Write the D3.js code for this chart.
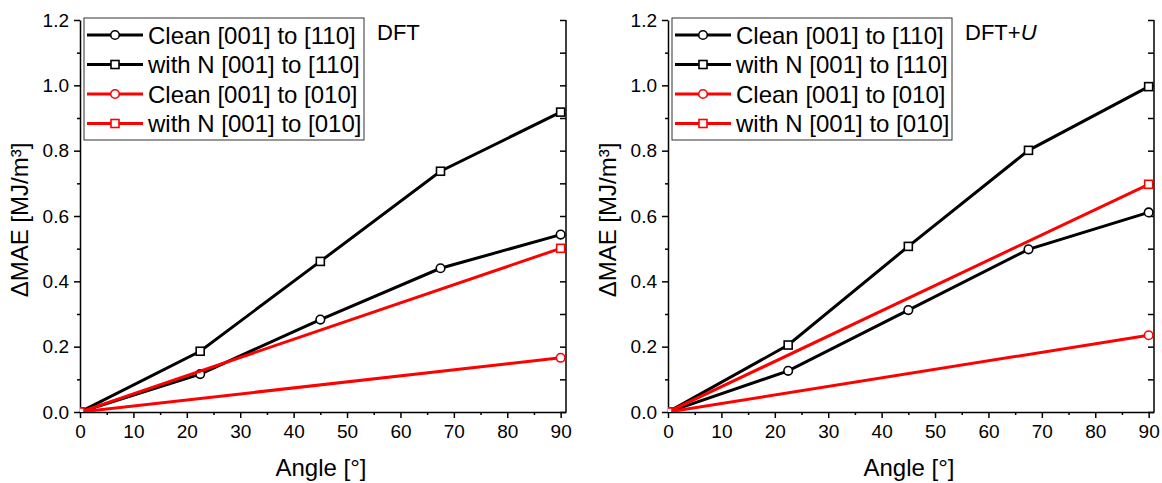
<!DOCTYPE html>
<html lang="en">
<head>
<meta charset="UTF-8">
<title>Delta MAE vs angle</title>
<script src="https://d3js.org/d3.v7.min.js"></script>
<style>
    body { margin: 0; background: #fff; }
    svg { display: block; font-family: "Liberation Sans", Arial, sans-serif; }
    .axis path, .axis line { stroke: #000; stroke-width: 1.5px; }
    .axis text { font-size: 19px; fill: #000; }
</style>
</head>
<body>
<svg id="chart" width="1162" height="483"></svg>
<script>
// angles where the black series are sampled, red series only at the ends
const angles = [0, 22.5, 45, 67.5, 90];
const angleEnds = [0, 90];

// DFT panel
const dftClean110 = [0, 0.116, 0.283, 0.440, 0.543];
const dftN110 = [0, 0.186, 0.461, 0.737, 0.918];
const dftClean010 = [0, 0.166];
const dftN010 = [0, 0.501];

// DFT+U panel
const dftuClean110 = [0, 0.126, 0.312, 0.498, 0.611];
const dftuN110 = [0, 0.205, 0.507, 0.801, 0.996];
const dftuClean010 = [0, 0.235];
const dftuN010 = [0, 0.697];

const seriesNames = ['Clean [001] to [110]', 'with N [001] to [110]',
                     'Clean [001] to [010]', 'with N [001] to [010]'];
const xTickValues = [0, 10, 20, 30, 40, 50, 60, 70, 80, 90];
const yTickValues = [0, 0.2, 0.4, 0.6, 0.8, 1.0, 1.2];

const svg = d3.select('#chart');
const plotTop = 20, plotBottom = 412, plotW = 486;

function makeSeries(c110, n110, c010, n010) {
    return [
        { name: seriesNames[0], xs: angles, ys: c110, color: '#000', marker: 'circle' },
        { name: seriesNames[1], xs: angles, ys: n110, color: '#000', marker: 'square' },
        { name: seriesNames[2], xs: angleEnds, ys: c010, color: '#ff0000', marker: 'circle' },
        { name: seriesNames[3], xs: angleEnds, ys: n010, color: '#ff0000', marker: 'square' }
    ];
}

function drawMarker(g, type, cx, cy, color) {
    if (type === 'circle') {
        g.append('circle').attr('cx', cx).attr('cy', cy).attr('r', 4.3)
            .attr('fill', '#fff').attr('stroke', color).attr('stroke-width', 1.6);
    } else {
        g.append('rect').attr('x', cx - 4).attr('y', cy - 4).attr('width', 8).attr('height', 8)
            .attr('fill', '#fff').attr('stroke', color).attr('stroke-width', 1.6);
    }
}

function drawPanel(x0, series, title, italicU, id) {
    const x = d3.scaleLinear().domain([0, 91]).range([x0, x0 + plotW]);
    const y = d3.scaleLinear().domain([0, 1.2]).range([plotBottom, plotTop]);
    const g = svg.append('g');

    svg.append('clipPath').attr('id', 'clip' + id)
        .append('rect').attr('x', x0).attr('y', 0).attr('width', plotW + 10).attr('height', plotBottom);

    // bottom axis, major + minor ticks outward
    g.append('g').attr('class', 'axis')
        .attr('transform', `translate(0,${plotBottom})`)
        .call(d3.axisBottom(x).tickValues(d3.range(5, 91, 10)).tickSize(3).tickFormat(''))
        .call(a => a.select('.domain').remove());
    g.append('g').attr('class', 'axis')
        .attr('transform', `translate(0,${plotBottom})`)
        .call(d3.axisBottom(x).tickValues(xTickValues).tickSize(6).tickSizeOuter(0).tickPadding(7)
            .tickFormat(d3.format('d')));

    // left axis
    g.append('g').attr('class', 'axis')
        .attr('transform', `translate(${x0},0)`)
        .call(d3.axisLeft(y).tickValues(d3.range(0.1, 1.2, 0.2)).tickSize(3).tickFormat(''))
        .call(a => a.select('.domain').remove());
    g.append('g').attr('class', 'axis')
        .attr('transform', `translate(${x0},0)`)
        .call(d3.axisLeft(y).tickValues(yTickValues).tickSize(6).tickSizeOuter(0).tickPadding(5)
            .tickFormat(d3.format('.1f')));

    // right frame with inward ticks
    const right = g.append('g').attr('class', 'axis')
        .attr('transform', `translate(${x0 + plotW},0)`)
        .call(d3.axisLeft(y).tickValues(d3.range(0, 1.21, 0.1)).tickSize(0).tickFormat(''));
    right.selectAll('.tick line').attr('x2', -6);
    right.select('.domain').attr('d', `M0,${plotTop}V${plotBottom}`);

    // lines and markers
    const data = g.append('g').attr('clip-path', `url(#clip${id})`);
    const line = d3.line().x(d => x(d[0])).y(d => y(d[1]));
    series.forEach(s => {
        const pts = s.xs.map((v, i) => [v, s.ys[i]]);
        data.append('path').attr('d', line(pts)).attr('fill', 'none')
            .attr('stroke', s.color).attr('stroke-width', 3);
        pts.forEach(p => drawMarker(data, s.marker, x(p[0]), y(p[1]), s.color));
    });

    // legend
    const lx = x0 + 4, ly = 18;
    g.append('rect').attr('x', lx).attr('y', ly).attr('width', 280).attr('height', 122)
        .attr('fill', '#fff').attr('stroke', '#333').attr('stroke-width', 1);
    series.forEach((s, i) => {
        const cy = ly + 17 + i * 29.5;
        g.append('line').attr('x1', lx + 3).attr('x2', lx + 59).attr('y1', cy).attr('y2', cy)
            .attr('stroke', s.color).attr('stroke-width', 3);
        drawMarker(g, s.marker, lx + 31, cy, s.color);
        g.append('text').attr('x', lx + 64).attr('y', cy + 8.5)
            .attr('font-size', '24px').text(s.name);
    });

    // panel label
    const t = g.append('text').attr('x', x0 + 297).attr('y', 40).attr('font-size', '22px').text(title);
    if (italicU) t.append('tspan').attr('font-style', 'italic').text('U');

    // axis titles
    g.append('text').attr('x', x0 + plotW / 2 - 2).attr('y', 476)
        .attr('text-anchor', 'middle').attr('font-size', '24px').text('Angle [°]');
    g.append('text')
        .attr('transform', `translate(${x0 - 52},${(plotTop + plotBottom) / 2 + 4}) rotate(-90)`)
        .attr('text-anchor', 'middle').attr('font-size', '24px')
        .text('ΔMAE [MJ/m³]');
}

drawPanel(80, makeSeries(dftClean110, dftN110, dftClean010, dftN010), 'DFT', false, 'a');
drawPanel(668, makeSeries(dftuClean110, dftuN110, dftuClean010, dftuN010), 'DFT+', true, 'b');
</script>
</body>
</html>
